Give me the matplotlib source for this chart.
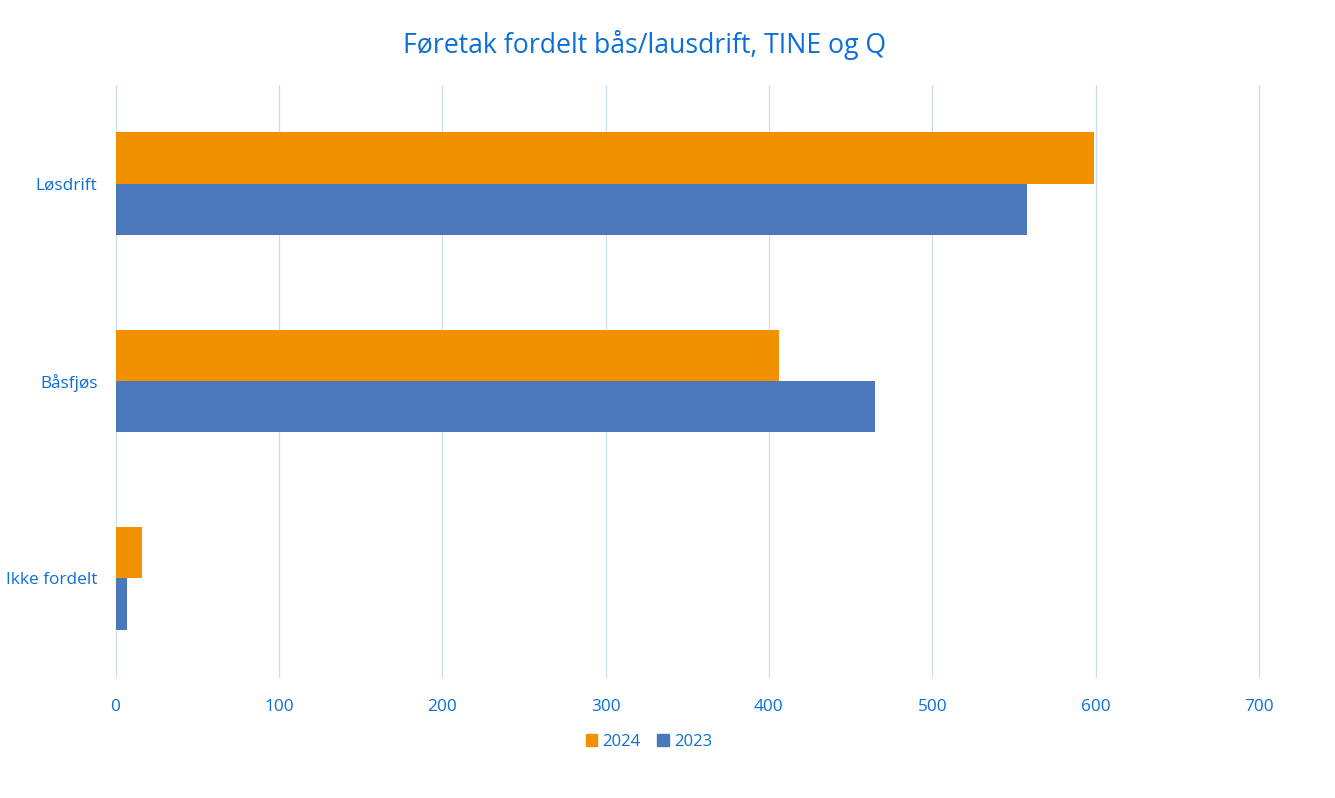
import numpy as np
import matplotlib.pyplot as plt
from matplotlib.patches import Patch

# Data (bottom to top order)
categories = ['Ikke fordelt', 'Båsfjøs', 'Løsdrift']
values_2024 = [16, 406, 599]
values_2023 = [7, 465, 558]
x_ticks = [0, 100, 200, 300, 400, 500, 600, 700]

TEXT = '#0b6fd6'
ORANGE = '#f29100'
BLUE = '#4a78bb'
GRID = '#c9ddf3'

plt.rcParams['font.family'] = ['Open Sans', 'DejaVu Sans']

fig = plt.figure(figsize=(13.35, 7.98), dpi=100)
ax = fig.add_axes([115.5 / 1335, 1 - 677 / 798, (1259 - 115.5) / 1335, (677 - 85) / 798])

y = np.arange(len(categories))
h = 0.26
ax.barh(y + h / 2, values_2024, height=h, color=ORANGE, label='2024', zorder=3)
ax.barh(y - h / 2, values_2023, height=h, color=BLUE, label='2023', zorder=3)

ax.set_xlim(0, 700)
ax.set_ylim(-0.5, 2.5)
ax.set_xticks(x_ticks)
ax.set_yticks(y)
ax.set_yticklabels(categories)
ax.tick_params(axis='both', length=0, labelsize=12.4, colors=TEXT)
ax.tick_params(axis='x', pad=16)
ax.tick_params(axis='y', pad=13)
ax.grid(axis='x', color=GRID, linewidth=0.9, zorder=0)
for gl in ax.get_xgridlines():
    gl.set_clip_on(False)
for s in ax.spines.values():
    s.set_visible(False)

fig.text(0.4825, 1 - 45 / 798, 'Føretak fordelt bås/lausdrift, TINE og Q',
         ha='center', va='center', fontsize=19.2, color=TEXT)

handles = [Patch(color=ORANGE, label='2024'), Patch(color=BLUE, label='2023')]
leg = fig.legend(handles=handles, loc='center', bbox_to_anchor=(0.486, 1 - 742 / 798),
                 ncol=2, frameon=False, fontsize=12, handlelength=0.7, handleheight=0.7,
                 handletextpad=0.3, columnspacing=1.0)
for t in leg.get_texts():
    t.set_color(TEXT)

fig.savefig('out.png', dpi=100, facecolor='white')
